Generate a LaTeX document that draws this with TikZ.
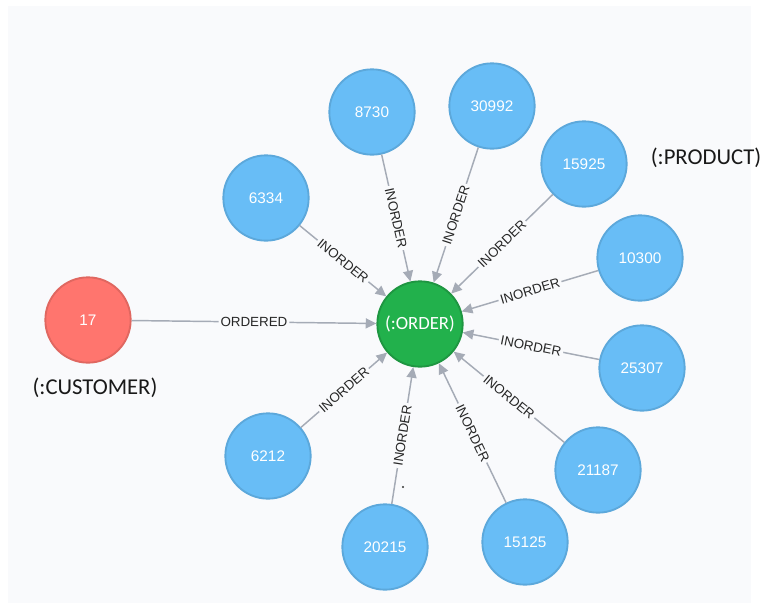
\documentclass[tikz,border=0pt]{standalone}
\usepackage{fontspec}
\setmainfont{Liberation Sans}
\newfontfamily\calfont{Carlito}
\usetikzlibrary{arrows.meta}
\definecolor{panel}{RGB}{249,250,252}
\definecolor{bluefill}{RGB}{104,189,246}
\definecolor{blueline}{RGB}{92,168,219}
\definecolor{redfill}{RGB}{255,117,110}
\definecolor{redline}{RGB}{224,103,96}
\definecolor{greenfill}{RGB}{34,177,76}
\definecolor{greenline}{RGB}{30,150,65}
\definecolor{edgecol}{RGB}{165,171,182}
\tikzset{
  prod/.style={circle, fill=bluefill, draw=blueline, line width=1.4pt, minimum size=64pt, inner sep=0pt, text=white, font=\fontsize{11.5}{12}\selectfont},
  cust/.style={prod, fill=redfill, draw=redline},
  ord/.style={prod, fill=greenfill, draw=greenline, font=\calfont\fontsize{14}{15}\selectfont},
  rel/.style={draw=edgecol, line width=1.1pt, -{Triangle[length=8pt,width=7.5pt]}},
  rellab/.style={sloped, fill=panel, inner sep=1.5pt, text=black!85, font=\fontsize{10}{11}\selectfont},
  caption/.style={font=\calfont\fontsize{17}{19}\selectfont, text=black!90}
}
\begin{document}
\begin{tikzpicture}[x=0.75pt,y=-0.75pt]
\useasboundingbox (0,0) rectangle (764,603);
\fill[white] (0,0) rectangle (764,603);
\fill[panel] (8,6) rectangle (751,603);
\node[ord] (o) at (420,324) {(:ORDER)};
\node[cust] (c) at (88,320) {17};
\node[prod] (p8730) at (372,112) {8730};
\node[prod] (p30992) at (492,106) {30992};
\node[prod] (p15925) at (584,164) {15925};
\node[prod] (p6334) at (266,198) {6334};
\node[prod] (p10300) at (640,258) {10300};
\node[prod] (p25307) at (642,368) {25307};
\node[prod] (p21187) at (598,470) {21187};
\node[prod] (p15125) at (525,542) {15125};
\node[prod] (p20215) at (385,547) {20215};
\node[prod] (p6212) at (268,456) {6212};
\node[caption] (lp) at (706,158) {(:PRODUCT)};
\node[caption] (lc) at (95,388) {(:CUSTOMER)};
\draw[rel] (c) -- node[rellab] {ORDERED} (o);
\foreach \p in {p8730,p30992,p15925,p6334,p10300,p25307,p21187,p15125,p20215,p6212}
  \draw[rel] (\p) -- node[rellab] {INORDER} (o);
\fill[black!80] (403,487) circle (0.9pt);
\end{tikzpicture}
\end{document}
